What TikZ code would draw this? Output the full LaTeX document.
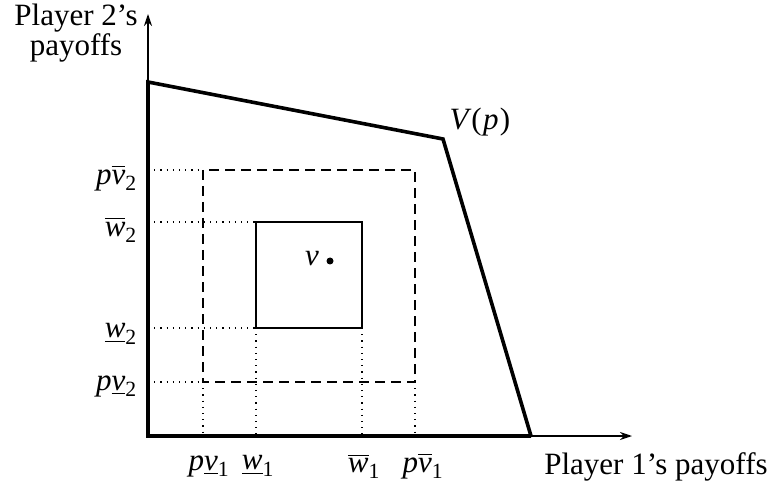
\documentclass[tikz,border=0pt]{standalone}
\usepackage{amsmath}
\usepackage{fontspec}
\setmainfont{Liberation Serif}
\usetikzlibrary{arrows.meta}
\newcommand{\ii}[1]{\text{\itshape #1}}
\newcommand{\rr}[1]{\text{\upshape #1}}
\begin{document}
\begin{tikzpicture}[x=1pt,y=-1pt,
  lbl/.style={font=\fontsize{31}{34}\selectfont, inner sep=0pt},
  frontier/.style={line width=3.6pt, line join=miter},
  axis/.style={line width=1.3pt, -{Stealth[length=12pt,width=8pt]}},
  dots/.style={line width=1.2pt, dash pattern=on 1.2pt off 5pt},
  dbox/.style={line width=1.2pt, dash pattern=on 10pt off 6pt},
  sbox/.style={line width=1.2pt}]
\useasboundingbox (0,0) rectangle (774,489);
% coordinates
\coordinate (O) at (148,436);
\coordinate (ytop) at (148,14);
\coordinate (xend) at (632,436);
\coordinate (A) at (148,82);
\coordinate (B) at (443,139);
\coordinate (C) at (531,436);
% axes
\draw[axis] (O) -- (ytop);
\draw[axis] (O) -- (xend);
% dotted guides
\draw[dots] (148,170) -- (203,170);
\draw[dots] (148,222) -- (256,222);
\draw[dots] (148,328) -- (256,328);
\draw[dots] (148,382) -- (203,382);
\draw[dots] (203,382) -- (203,436);
\draw[dots] (256,328) -- (256,436);
\draw[dots] (362,328) -- (362,436);
\draw[dots] (415,382) -- (415,436);
% boxes
\draw[dbox] (203,170) rectangle (415,382);
\draw[sbox] (256,222) rectangle (362,328);
% frontier
\draw[frontier] (C) -- (O) -- (A) -- (B) -- (C);
% point v
\fill (330,261) circle (3.5pt);
\node[lbl] (v) at (312,259) {\itshape v};
\node[lbl] (Vp) at (480,122) {$\ii{V}\mkern2mu\rr{(}\mkern1mu\ii{p}\mkern1mu\rr{)}$};
% left labels
\node[lbl, anchor=east] (pv2b) at (137,178) {$\ii{p}\overline{\ii{v}}_{\rr{2}}$};
\node[lbl, anchor=east] (w2b) at (137,230) {$\overline{\ii{w}}_{\rr{2}}$};
\node[lbl, anchor=east] (w2u) at (137,334) {$\underline{\ii{w}}_{\rr{2}}$};
\node[lbl, anchor=east] (pv2u) at (137,386) {$\ii{p}\underline{\ii{v}}_{\rr{2}}$};
% bottom labels
\node[lbl] (pv1u) at (209,466) {$\ii{p}\underline{\ii{v}}_{\rr{1}}$};
\node[lbl] (w1u) at (258,466) {$\underline{\ii{w}}_{\rr{1}}$};
\node[lbl] (w1b) at (364,466) {$\overline{\ii{w}}_{\rr{1}}$};
\node[lbl] (pv1b) at (423,466) {$\ii{p}\overline{\ii{v}}_{\rr{1}}$};
% axis titles
\node[lbl, align=center, font=\fontsize{31}{30}\selectfont] (ylab) at (76,33) {Player 2’s\\payoffs};
\node[lbl] (xlab) at (656,467) {Player 1’s payoffs};
\end{tikzpicture}
\end{document}
